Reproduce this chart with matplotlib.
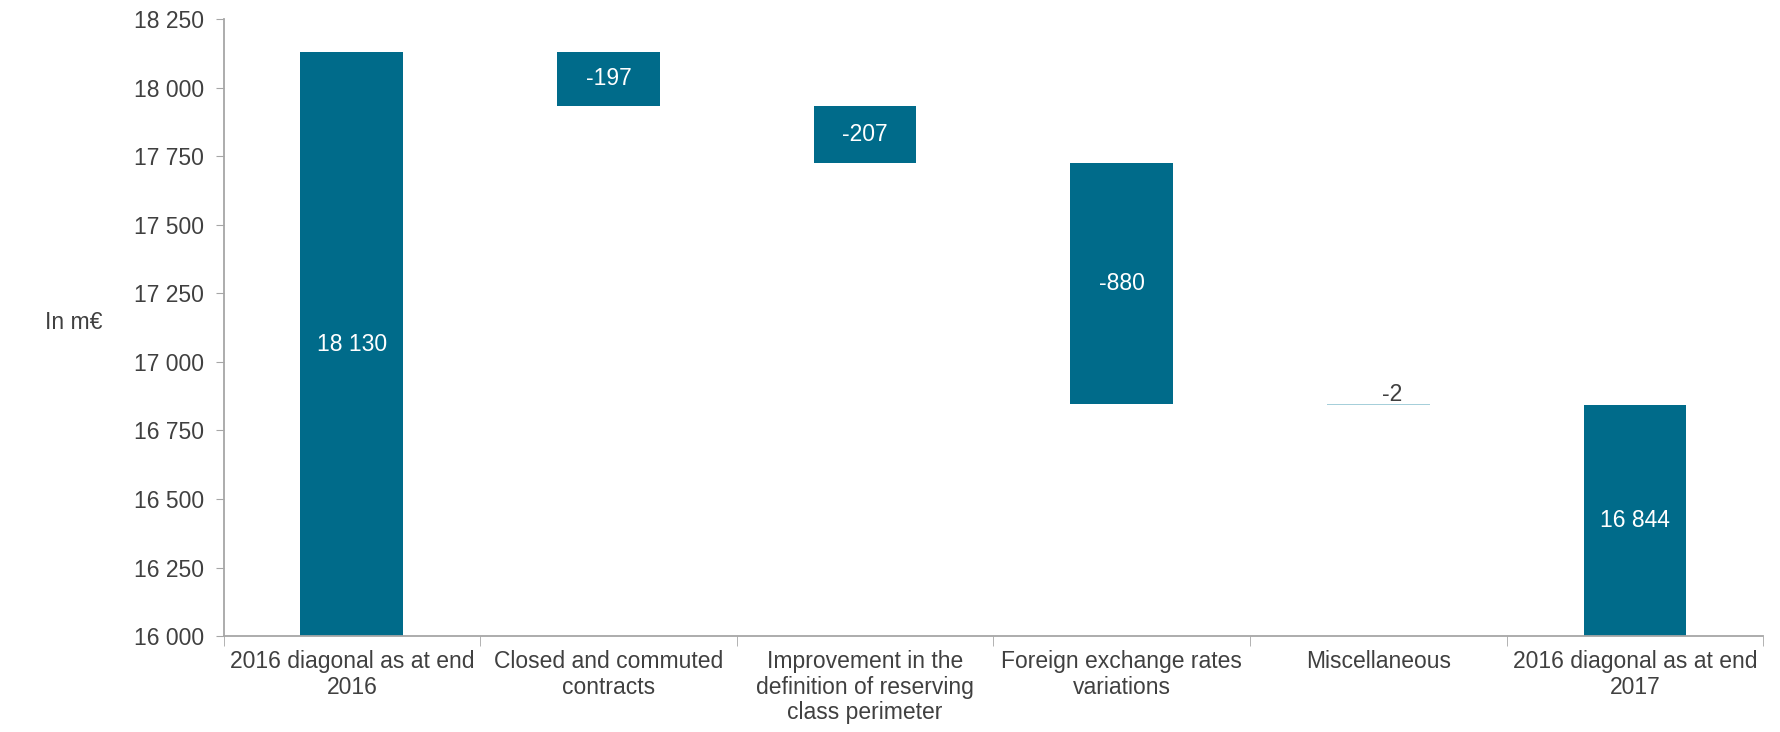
import numpy as np
import matplotlib
matplotlib.use("Agg")
import matplotlib.pyplot as plt
from matplotlib.ticker import FuncFormatter

plt.rcParams["font.family"] = ["Liberation Sans", "DejaVu Sans"]

# veriler
kategoriler = [
    "2016 diagonal as at end\n2016",
    "Closed and commuted\ncontracts",
    "Improvement in the\ndefinition of reserving\nclass perimeter",
    "Foreign exchange rates\nvariations",
    "Miscellaneous",
    "2016 diagonal as at end\n2017",
]
baslangic = 18130
degisimler = [-197, -207, -880, -2]
bitis = 16844
etiketler = ["18 130", "-197", "-207", "-880", "-2", "16 844"]

ana_renk = "#006B8A"
acik_renk = "#A6CFDA"
yazi_renk = "#404040"
eksen_renk = "#A6A6A6"

# waterfall alt/ust hesaplari
alt, ust = [16000], [baslangic]
seviye = baslangic
for d in degisimler:
    yeni = seviye + d
    alt.append(min(seviye, yeni))
    ust.append(max(seviye, yeni))
    seviye = yeni
alt.append(16000)
ust.append(bitis)
alt = np.array(alt)
ust = np.array(ust)
x = np.arange(len(kategoriler))

fig = plt.figure(figsize=(17.81, 7.32), dpi=100)
ax = fig.add_axes([0.1255, 0.131, 0.8645, 0.843])

renkler = [ana_renk] * len(x)
renkler[4] = acik_renk
ax.bar(x, ust - alt, bottom=alt, width=0.4, color=renkler)

for i in range(len(x)):
    orta = (alt[i] + ust[i]) / 2
    if i == 4:
        ax.annotate(etiketler[i], (x[i], ust[i]), xytext=(10, 7),
                    textcoords="offset points", ha="center", va="center",
                    fontsize=16.5, color=yazi_renk)
    else:
        ax.text(x[i], orta, etiketler[i], ha="center", va="center",
                fontsize=16.5, color="white")

ax.set_xlim(-0.5, len(x) - 0.5)
ax.set_ylim(16000, 18250)
ax.set_yticks(np.arange(16000, 18251, 250))
ax.yaxis.set_major_formatter(FuncFormatter(lambda v, p: f"{int(v):,}".replace(",", " ")))

ax.set_xticks(x)
ax.set_xticklabels(kategoriler, fontsize=16.5, color=yazi_renk, linespacing=1.15)
ax.set_xticks(np.arange(-0.5, len(x)), minor=True)
ax.tick_params(axis="x", which="major", length=0, pad=10)
ax.tick_params(axis="x", which="minor", length=7, color=eksen_renk)
ax.tick_params(axis="y", length=6, color=eksen_renk, labelsize=16.5, labelcolor=yazi_renk, pad=8)

for s in ["top", "right"]:
    ax.spines[s].set_visible(False)
for s in ["left", "bottom"]:
    ax.spines[s].set_color(eksen_renk)
    ax.spines[s].set_linewidth(1.3)

fig.text(0.025, 0.56, "In m€", fontsize=16.5, color=yazi_renk, ha="left", va="center")

fig.savefig("out.png", dpi=100)
